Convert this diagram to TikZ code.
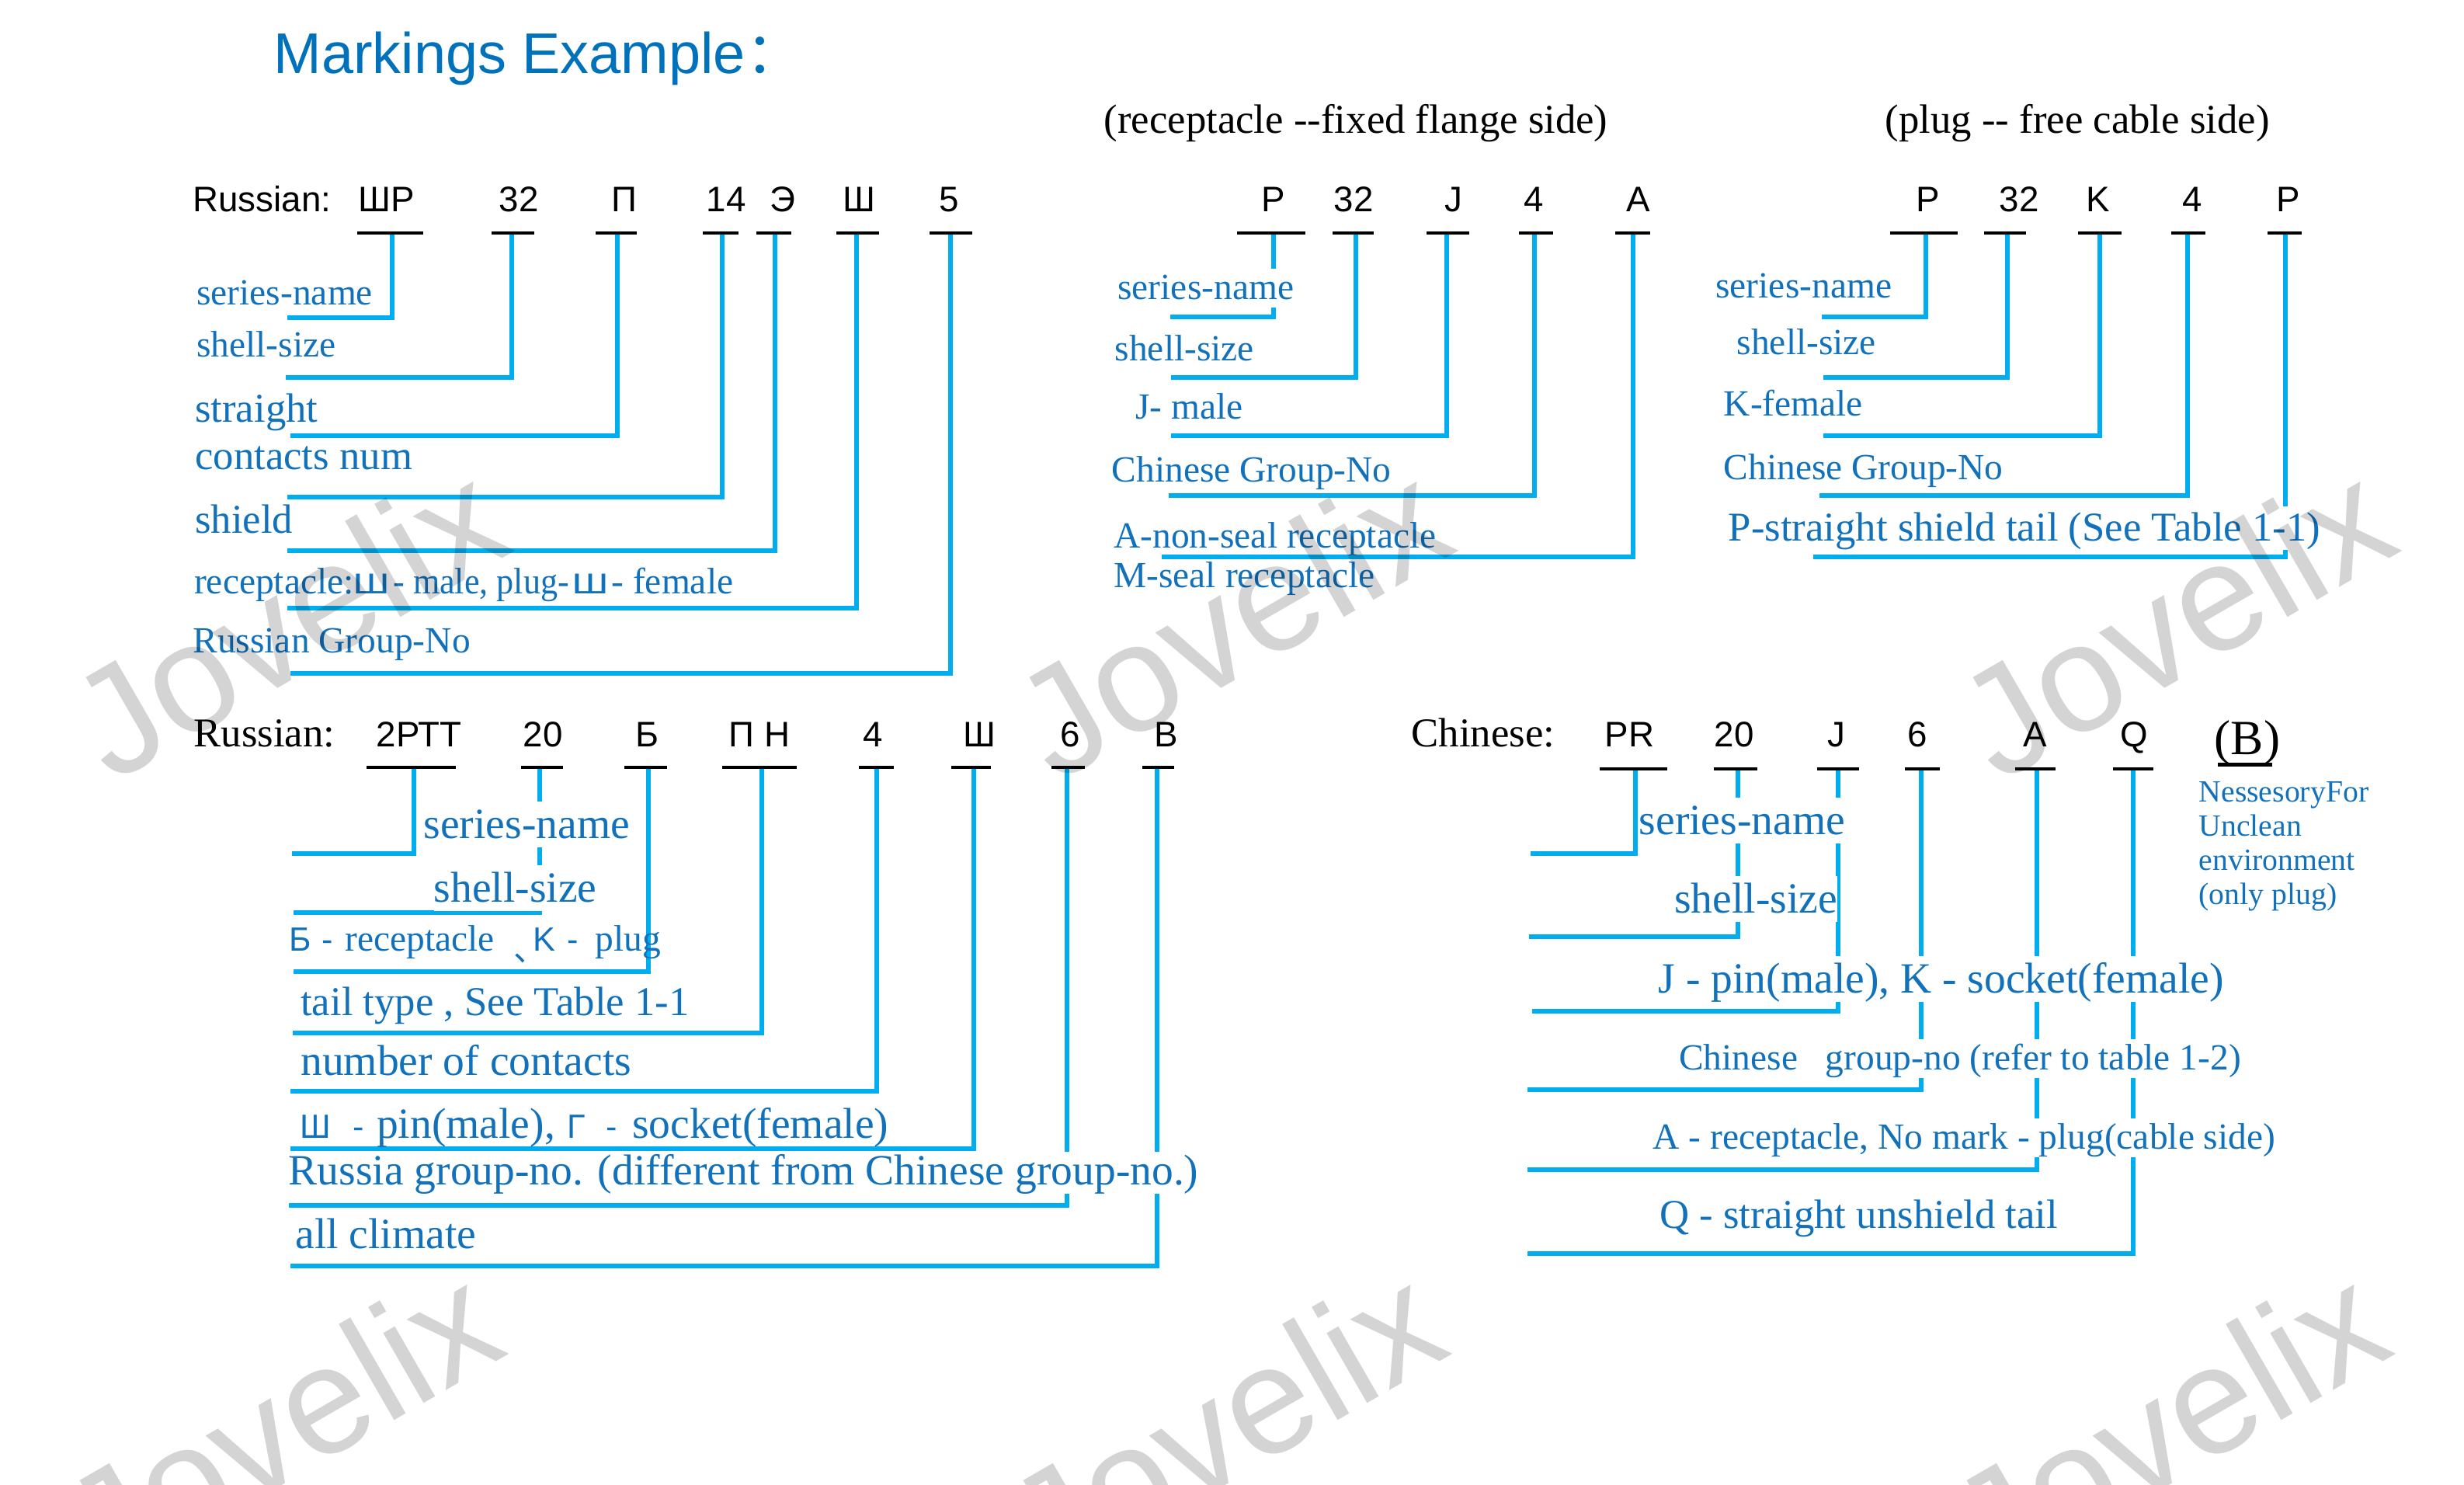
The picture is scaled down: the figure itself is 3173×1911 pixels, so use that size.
\documentclass[tikz,border=0pt]{standalone}
\usepackage{fontspec}
\usepackage{graphicx}
\setmainfont{Liberation Serif}
\newfontfamily\arialfont{Liberation Sans}
\newfontfamily\cjkfont{Noto Sans CJK SC}
\definecolor{lineblue}{RGB}{0,174,239}
\definecolor{txtblue}{RGB}{18,113,187}
\definecolor{titleblue}{RGB}{0,114,188}
\newcommand\putat[2]{\makebox[0pt][l]{\hspace*{#1}#2}}
\newcommand\cyrsf{\arialfont\fontsize{12.3}{14}\selectfont}
\newcommand\wideSh{{\arialfont\fontsize{10.5}{12}\selectfont\scalebox{1.4}[1]{Ш}}}

\tikzset{
  conn/.style={lineblue, line width=1.6pt},
  uline/.style={black, line width=1.1pt},
  code/.style={anchor=base west, inner sep=0pt, font=\arialfont\fontsize{13}{15}\selectfont},
  head/.style={anchor=base west, inner sep=0pt, font=\fontsize{15}{18}\selectfont},
  lbl/.style={anchor=base west, inner sep=0pt, text=txtblue, font=\fontsize{13.5}{16}\selectfont},
  lblm/.style={font=\fontsize{15}{18}\selectfont},
  lblb/.style={font=\fontsize{15.8}{19}\selectfont},
  note/.style={font=\fontsize{11.3}{13}\selectfont},
  knock/.style={fill=white, execute at begin node={\rule[-0.22em]{0pt}{#1}}},
  knock/.default=1.06em,
  wmark/.style={font=\arialfont\fontsize{56}{60}\selectfont, text=black, text opacity=0.17, rotate=30, inner sep=0pt}
}

\begin{document}
\begin{tikzpicture}[x=0.01cm, y=-0.01cm]
  \useasboundingbox (0,0) rectangle (3173,1911);
  \clip (0,0) rectangle (3173,1911);

  % title and side headings
  \node[anchor=base west, inner sep=0pt, text=titleblue, font=\arialfont\fontsize{21}{25}\selectfont] (title) at (352,94.6) {Markings Example{\cjkfont ：}};
  \node[head] (recside) at (1421,171) {(receptacle -{}-fixed flange side)};
  \node[head] (plugside) at (2427,171) {(plug -{}- free cable side)};

  % Russian ShR connectors
  \foreach \n/\xl/\xr/\xc/\yh/\xe in {1/460/545/505/409/370, 2/633/688/659/486/368, 3/767/820/795/561/374, 4/905/951/930/640/370, 5/974/1019/998/709/370, 6/1077/1132/1103/783/370, 7/1197/1252/1224/867/374}{
    \coordinate (ra\n) at (\xc,300);
    \coordinate (rb\n) at (\xe,\yh);
    \draw[conn] (ra\n) |- (rb\n);
    \draw[uline] (\xl,300) -- (\xr,300);
  }
  % receptacle connectors
  \foreach \n/\xl/\xr/\xc/\yh/\xe in {1/1593/1681/1640/408/1507, 2/1716/1769/1746/486/1508, 3/1837/1892/1863/561/1508, 4/1956/2000/1976/638/1505, 5/2080/2125/2103/717/1496}{
    \coordinate (sa\n) at (\xc,300);
    \coordinate (sb\n) at (\xe,\yh);
    \draw[conn] (sa\n) |- (sb\n);
    \draw[uline] (\xl,300) -- (\xr,300);
  }
  % plug connectors
  \foreach \n/\xl/\xr/\xc/\yh/\xe in {1/2434/2521/2480/408/2346, 2/2555/2609/2585/486/2348, 3/2676/2732/2704/561/2348, 4/2796/2840/2817/638/2343, 5/2920/2964/2943/717/2335}{
    \coordinate (pa\n) at (\xc,300);
    \coordinate (pb\n) at (\xe,\yh);
    \draw[conn] (pa\n) |- (pb\n);
    \draw[uline] (\xl,300) -- (\xr,300);
  }
  % Russian 2RTT connectors
  \foreach \n/\xl/\xr/\xc/\yh/\xe in {1/472/587/533/1099/376, 2/671/725/695/1175/378, 3/804/859/835/1251/378, 4/930/1026/981/1330/377, 5/1106/1151/1129/1405/374, 6/1225/1276/1254/1479/374, 7/1354/1397/1374/1552/372, 8/1471/1512/1490/1630/374}{
    \coordinate (ta\n) at (\xc,988);
    \coordinate (tb\n) at (\xe,\yh);
    \draw[conn] (ta\n) |- (tb\n);
    \draw[uline] (\xl,988) -- (\xr,988);
  }
  % Chinese PR connectors
  \foreach \n/\xl/\xr/\xc/\yh/\xe in {1/2060/2147/2106/1099/1971, 2/2207/2263/2238/1206/1969, 3/2340/2394/2367/1302/1973, 4/2453/2498/2474/1403/1967, 5/2595/2647/2623/1506/1967, 6/2721/2773/2747/1614/1967}{
    \coordinate (ca\n) at (\xc,990);
    \coordinate (cb\n) at (\xe,\yh);
    \draw[conn] (ca\n) |- (cb\n);
    \draw[uline] (\xl,990) -- (\xr,990);
  }

  % code letters
  \node[code] (rus1) at (247.7,272) {Russian:};
  \foreach \n/\x/\t in {1/461/ШР, 2/642/32, 3/787/П, 4/909/14, 5/991/Э, 6/1085/Ш, 7/1209/5}
    \node[code] (rc\n) at (\x,272) {\t};
  \foreach \n/\x/\t in {1/1624/P, 2/1717/32, 3/1860/J, 4/1962/4, 5/2094/A}
    \node[code] (sc\n) at (\x,272) {\t};
  \foreach \n/\x/\t in {1/2467/P, 2/2574/32, 3/2686/K, 4/2810/4, 5/2931/P}
    \node[code] (pc\n) at (\x,272) {\t};
  \node[head] (rus2) at (249,961.6) {Russian:};
  \foreach \n/\x/\t in {1/484/2РТТ, 2/673/20, 3/818/Б, 4/938/П Н, 5/1111/4, 6/1240/Ш, 7/1365/6, 8/1486/В}
    \node[code] (tc\n) at (\x,961.6) {\t};
  \node[head] (chn) at (1817,961.6) {Chinese:};
  \foreach \n/\x/\t in {1/2066/PR, 2/2207/20, 3/2353/J, 4/2456/6, 5/2605/A, 6/2730/Q}
    \node[code] (cc\n) at (\x,961.6) {\t};
  \node[head, font=\fontsize{18}{21}\selectfont] (bmark) at (2851,971) {(B)};
  \draw[uline, line width=1.2pt] (2856,984.4) -- (2926,984.4);

  % labels, Russian ShR
  \node[lbl] (rl1) at (252.6,392) {series-name};
  \node[lbl] (rl2) at (252.6,459) {shell-size};
  \node[lbl,lblm] (rl3) at (250.5,543.7) {straight};
  \node[lbl,lblm] (rl4) at (250.5,604) {contacts num};
  \node[lbl,lblm] (rl5) at (250.5,686.6) {shield};
  \node[lbl] (rl6) at (247.7,764.7) {\putat{0cm}{receptacle:}\putat{2.04cm}{\wideSh}\putat{2.56cm}{\scalebox{0.93}[1]{- male, plug-}}\putat{4.86cm}{\wideSh}\putat{5.37cm}{- female}};
  \node[lbl] (rl7) at (247.7,840.6) {Russian Group-No};

  % labels, receptacle
  \node[lbl,knock] (sl1) at (1438.7,385.7) {series-name};
  \node[lbl] (sl2) at (1435,464) {shell-size};
  \node[lbl] (sl3) at (1461.6,539.7) {J- male};
  \node[lbl] (sl4) at (1431,620) {Chinese Group-No};
  \node[lbl] (sl5) at (1433.6,705) {A-non-seal receptacle};
  \node[lbl] (sl6) at (1433.6,756) {M-seal receptacle};

  % labels, plug
  \node[lbl] (pl1) at (2208.7,383.5) {series-name};
  \node[lbl] (pl2) at (2236,456) {shell-size};
  \node[lbl] (pl3) at (2219,535) {K-female};
  \node[lbl] (pl4) at (2219,617) {Chinese Group-No};
  \node[lbl,lblm,knock] (pl5) at (2225,696) {P-straight shield tail (See Table 1-1)};

  % labels, Russian 2RTT
  \node[lbl,lblb,knock] (tl1) at (545,1079) {series-name};
  \node[lbl,lblb,knock] (tl2) at (558,1161) {shell-size};
  \node[lbl] (tl3) at (370,1224.6) {\putat{0cm}{\cyrsf Б}\putat{0.42cm}{\cyrsf -}\putat{0.72cm}{receptacle}\putat{2.89cm}{\raisebox{-0.28em}{\cjkfont\fontsize{12}{14}\selectfont 、}}\putat{3.14cm}{\cyrsf K}\putat{3.58cm}{\cyrsf -}\putat{3.94cm}{plug}};
  \node[lbl,lblm] (tl4) at (386.6,1307) {tail type , See Table 1-1};
  \node[lbl,lblb] (tl5) at (386.6,1384) {number of contacts};
  \node[lbl,lblb] (tl6) at (383.6,1465.7) {\putat{0cm}{\cyrsf Ш}\putat{0.68cm}{\cyrsf -}\putat{0.99cm}{pin(male),}\putat{3.44cm}{\cyrsf Г}\putat{3.94cm}{\cyrsf -}\putat{4.28cm}{socket(female)}};
  \node[lbl,lblb,knock=0.98em] (tl7) at (371,1525) {Russia group-no. (different from Chinese group-no.)};
  \node[lbl,lblb] (tl8) at (379.7,1607) {all climate};

  % labels, Chinese PR
  \node[lbl,lblb,knock] (cl1) at (2110,1074) {series-name};
  \node[lbl,lblb,knock] (cl2) at (2155.6,1175) {shell-size};
  \node[lbl,lblb,knock] (cl3) at (2135,1278) {J - pin(male), K - socket(female)};
  \node[lbl,knock] (cl4) at (2161.4,1377.5) {Chinese\hspace{0.357cm}group-no (refer to table 1-2)};
  \node[lbl,knock] (cl5) at (2128,1479.5) {A - receptacle, No mark - plug(cable side)};
  \node[lbl,lblm] (cl6) at (2136.6,1581.5) {Q - straight unshield tail};
  \node[lbl,note] (nb1) at (2831,1032) {NessesoryFor};
  \node[lbl,note] (nb2) at (2831,1076) {Unclean};
  \node[lbl,note] (nb3) at (2831,1120) {environment};
  \node[lbl,note] (nb4) at (2831,1164) {(only plug)};

  % watermarks
  \foreach \i/\x/\y in {1/370/798, 2/1585/798, 3/2800/798, 4/362/1832, 5/1577/1832, 6/2792/1832}
    \node[wmark] (wm\i) at (\x,\y) {Jovelix};
\end{tikzpicture}
\end{document}
